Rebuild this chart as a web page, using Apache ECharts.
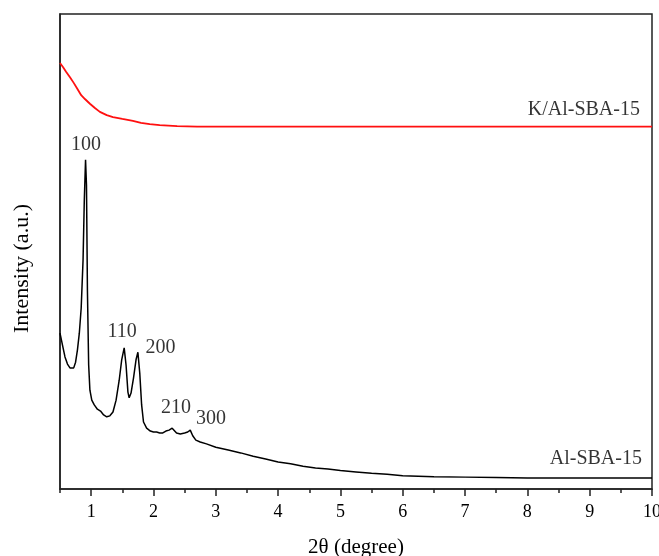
<!DOCTYPE html>
<html>
<head>
<meta charset="utf-8">
<script src="https://cdn.jsdelivr.net/npm/echarts@6/dist/echarts.min.js"></script>
<style>
html,body{margin:0;padding:0;background:#fff;}
#chart{width:659px;height:556px;}
</style>
</head>
<body>
<div id="chart"></div>
<script>
// 2-theta positions and intensities (arbitrary units)
const alX = [0.5,0.54,0.58,0.62,0.66,0.69,0.72,0.75,0.78,0.81,0.84,0.87,0.89,0.91,0.925,0.94,0.96,0.98,1.01,1.05,1.1,1.15,1.2,1.25,1.3,1.35,1.4,1.45,1.49,1.53,1.56,1.59,1.61,1.64,1.68,1.72,1.75,1.78,1.81,1.84,1.89,1.95,2.0,2.05,2.1,2.15,2.2,2.25,2.3,2.33,2.37,2.43,2.5,2.55,2.59,2.63,2.68,2.75,2.85,3.0,3.2,3.4,3.6,3.8,4.0,4.2,4.4,4.6,4.8,5.0,5.25,5.5,5.75,6.0,6.5,7.0,7.5,8.0,8.5,9.0,9.5,10.0];
const alY = [32.8,30.3,27.8,26.3,25.5,25.1,25.5,26.7,29.3,32.8,38.1,48.2,60.8,69.3,64.0,41.9,26.1,20.8,18.7,17.7,16.8,16.4,15.6,15.2,15.4,16.2,18.7,22.9,27.2,29.7,26.1,20.4,19.2,20.2,23.4,27.2,28.8,24.4,17.7,14.1,12.8,12.2,12.0,12.0,11.8,11.8,12.2,12.4,12.8,12.4,11.8,11.6,11.8,12.0,12.4,11.2,10.3,9.9,9.5,8.8,8.2,7.6,6.9,6.3,5.7,5.3,4.8,4.4,4.2,3.9,3.6,3.3,3.1,2.8,2.6,2.5,2.4,2.3,2.3,2.3,2.3,2.3];
const kX = [0.5,0.55,0.6,0.66,0.72,0.78,0.84,0.9,0.98,1.06,1.14,1.25,1.35,1.5,1.67,1.8,1.94,2.1,2.38,2.7,3.0,4.0,5.0,6.0,7.0,8.0,9.0,10.0];
const kY = [89.7,88.8,87.8,86.7,85.5,84.2,82.9,82.1,81.1,80.2,79.4,78.7,78.3,77.9,77.5,77.1,76.8,76.6,76.4,76.3,76.3,76.3,76.3,76.3,76.3,76.3,76.3,76.3];

// annotations
const peakNames = ['100','110','200','210','300'];
const peakLabelX = [0.917,1.495,2.113,2.361,2.923];
const peakLabelY = [72.4,33.05,29.7,17.05,14.7];
const sampleNames = ['K/Al-SBA-15','Al-SBA-15'];
const sampleLabelX = [9.807,9.839];
const sampleLabelY = [79.8,6.3];

const majorTicks = [1,2,3,4,5,6,7,8,9,10];
const minorTicks = [0.5,1.5,2.5,3.5,4.5,5.5,6.5,7.5,8.5,9.5];

const FONT = '"Liberation Serif","Times New Roman",serif';
const pair = (xs, ys) => xs.map((x, i) => [x, ys[i]]);

const chart = echarts.init(document.getElementById('chart'), null, {renderer: 'canvas'});
chart.setOption({
  animation: false,
  backgroundColor: '#ffffff',
  grid: {left: 60, right: 7, top: 14, bottom: 67, outerBoundsMode: 'none', containLabel: false,
         show: true, borderColor: '#222', borderWidth: 1.5, backgroundColor: 'transparent'},
  xAxis: [{
    type: 'value', min: 0.5, max: 10,
    name: '2θ (degree)', nameLocation: 'middle', nameGap: 48,
    nameTextStyle: {fontFamily: FONT, fontSize: 21, color: '#000'},
    axisLine: {show: true, onZero: false, lineStyle: {color: '#222', width: 1.5}},
    axisTick: {show: true, inside: false, length: 7, customValues: majorTicks, lineStyle: {color: '#222', width: 1.5}},
    axisLabel: {show: true, margin: 14, customValues: majorTicks, fontFamily: FONT, fontSize: 18, color: '#000'},
    splitLine: {show: false}
  }, {
    type: 'value', min: 0.5, max: 10, position: 'bottom', gridIndex: 0,
    axisLine: {show: false},
    axisTick: {show: true, inside: false, length: 4, customValues: minorTicks, lineStyle: {color: '#222', width: 1.5}},
    axisLabel: {show: false},
    splitLine: {show: false}
  }],
  yAxis: {
    type: 'value', min: 0, max: 100,
    name: 'Intensity (a.u.)', nameLocation: 'middle', nameGap: 27,
    nameTextStyle: {fontFamily: FONT, fontSize: 22, color: '#000', padding: [0, 34, 0, 0]},
    axisLine: {show: true, lineStyle: {color: '#222', width: 1.5}},
    axisTick: {show: false}, axisLabel: {show: false}, splitLine: {show: false}
  },
  series: [
    {
      type: 'line', name: 'K/Al-SBA-15', data: pair(kX, kY), showSymbol: false, symbol: 'none',
      lineStyle: {color: '#ff1010', width: 1.8}, silent: true, z: 3
    },
    {
      type: 'line', name: 'Al-SBA-15', data: pair(alX, alY), showSymbol: false, symbol: 'none',
      lineStyle: {color: '#000000', width: 1.5}, silent: true, z: 3
    },
    {
      type: 'scatter', symbolSize: 0, silent: true, z: 5,
      data: peakNames.map((n, i) => ({name: n, value: [peakLabelX[i], peakLabelY[i]]})),
      label: {show: true, position: 'inside', formatter: p => p.name, fontFamily: FONT, fontSize: 20, color: '#000'},
      labelLayout: {hideOverlap: false}
    },
    {
      type: 'scatter', symbolSize: 0, silent: true, z: 5,
      data: sampleNames.map((n, i) => ({name: n, value: [sampleLabelX[i], sampleLabelY[i]]})),
      label: {show: true, position: 'left', distance: 0, formatter: p => p.name, fontFamily: FONT, fontSize: 20, color: '#000'},
      labelLayout: {hideOverlap: false}
    }
  ]
});
</script>
</body>
</html>
